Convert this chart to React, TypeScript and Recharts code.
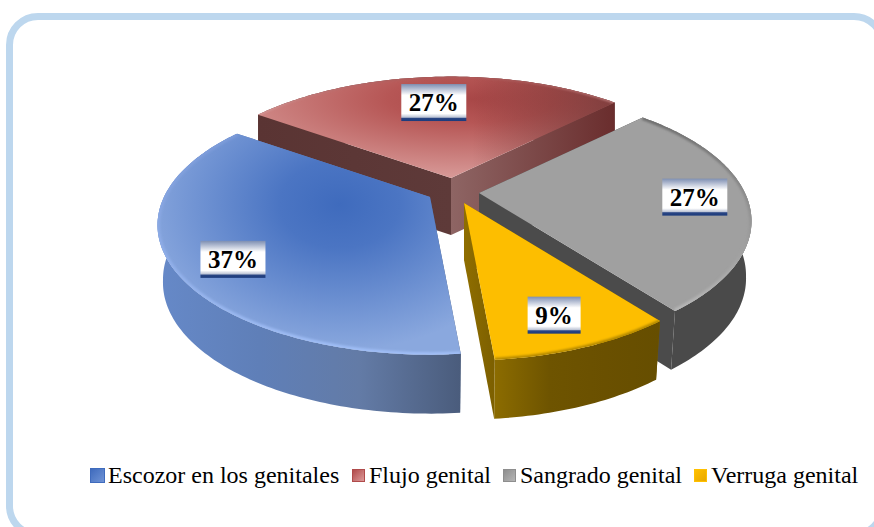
import React from 'react';
import { PieChart, Pie, Cell, Legend } from 'recharts';

const categories = ['Escozor en los genitales', 'Flujo genital', 'Sangrado genital', 'Verruga genital'];
const percents = [37, 27, 27, 9];
// The back slices must be painted first, so the pie starts at the red slice.
const paintOrder = [1, 2, 3, 0];
const rows = paintOrder.map((i) => ({ name: categories[i], value: percents[i], key: i }));

const SERIF = '"Liberation Serif", "Times New Roman", serif';
const PERSPECTIVE = 0.217;
const Y_RATIO = 0.464;
const DEPTH = 57;

type Look = {
  apex: [number, number];
  nudge: [number, number];
  top: string[];
  grad: [number, number, number];
  rim: [string, string];
  rimW: number;
  outer: string[];
  startWall: string[];
  endWall: string[];
  shade?: boolean;
  outerFirst?: boolean;
  icon: [string, string];
};

const looks: Look[] = [
  {
    apex: [-25, 2], nudge: [6.5, 10.5],
    top: ['#3F6BBD', '#4B75C3', '#8AA8DE'], grad: [0.6, 0.32, 0.66],
    rim: ['#7B9AD8', '#A0BEF6'], rimW: 5,
    outer: ['#6689C8', '#5F7FB8', '#637BA6', '#4A5C7C'],
    startWall: ['#4A5C7C', '#4A5C7C'], endWall: ['#6080BC', '#6080BC'],
    icon: ['#3F6BBD', '#6F93D6'],
  },
  {
    apex: [-4, -17], nudge: [-4.5, 8.5],
    top: ['#A84747', '#B65655', '#D89A98'], grad: [0.6, 0.22, 0.78],
    rim: ['#A85A5A', '#D8A0A0'], rimW: 2,
    outer: ['#5B3534', '#5B3534', '#5B3534', '#5B3534'],
    startWall: ['#5A3433', '#5E3A39'], endWall: ['#8E6564', '#6A2D2D'],
    shade: true, outerFirst: true,
    icon: ['#B04B4B', '#DD9A9A'],
  },
  {
    apex: [24, -2], nudge: [1, -2.5],
    top: ['#A0A0A0', '#A0A0A0', '#A0A0A0'], grad: [0.5, 0.5, 0.7],
    rim: ['#6E6E6E', '#B8B8B8'], rimW: 5,
    outer: ['#4A4A4A', '#4A4A4A', '#4A4A4A', '#4A4A4A'],
    startWall: ['#4A4A4A', '#4A4A4A'], endWall: ['#4B4B4B', '#4B4B4B'],
    icon: ['#8E8E8E', '#B5B5B5'],
  },
  {
    apex: [9, 8], nudge: [-2.5, 2.5],
    top: ['#FDBE00', '#FDBE00', '#FDBE00'], grad: [0.5, 0.5, 0.7],
    rim: ['#B08600', '#B08600'], rimW: 4,
    outer: ['#8C6C00', '#6E5400', '#6A5000', '#664E00'],
    startWall: ['#7A5D00', '#7A5D00'], endWall: ['#8F6E00', '#7C5F00'],
    icon: ['#FFC000', '#E8A800'],
  },
];

const legendX = [90, 352, 503, 694];

const rad = (d: number) => (d * Math.PI) / 180;

// Excel's 3D view slightly stretches the angles near the back-left boundary.
function warpAngle(angle: number) {
  const a = ((angle % 360) + 360) % 360;
  return a + 2.7 * Math.exp(-(((a - 142) / 40) ** 2));
}

function projector(cx: number, cy: number, R: number, apex: [number, number]) {
  return (angle: number, r: number, dropped: boolean) => {
    const w = warpAngle(angle);
    const u = r * Math.cos(rad(w));
    const v = r * Math.sin(rad(w));
    const s = 1 / (1 + PERSPECTIVE * v);
    const t = Math.min(1, Math.max(0, (0.6 - v) / 0.8));
    const shrink = dropped ? 1 - 0.02 * t : 1;
    return [
      cx + apex[0] + R * u * s * shrink,
      cy + apex[1] - R * Y_RATIO * v * s + (dropped ? DEPTH + (r > 0 ? (-v > 0 ? -v * 2 : 0) : 0) : 0),
    ];
  };
}

function arcPoints(project: ReturnType<typeof projector>, a0: number, a1: number, dropped: boolean) {
  const n = Math.max(2, Math.ceil(Math.abs(a1 - a0)));
  const out: number[][] = [];
  for (let i = 0; i <= n; i++) out.push(project(a0 + ((a1 - a0) * i) / n, 1, dropped));
  return out;
}

const toPath = (pts: number[][], close = true) =>
  pts.map((p, i) => `${i ? 'L' : 'M'}${p[0].toFixed(2)} ${p[1].toFixed(2)}`).join(' ') + (close ? ' Z' : '');

function Wedge(props: any) {
  const { cx, cy, outerRadius, startAngle, endAngle, payload } = props;
  const key = payload.key as number;
  const look = looks[key];
  const project = projector(cx, cy, outerRadius, look.apex);
  const topArc = arcPoints(project, startAngle, endAngle, false);
  const lowArc = arcPoints(project, startAngle, endAngle, true);
  const apexTop = project(0, 0, false);
  const apexLow = project(0, 0, true);
  const face = toPath([apexTop, ...topArc]);
  const id = `w${key}`;
  const stops = (c: string[]) =>
    c.map((col, i) => <stop key={i} offset={i / (c.length - 1)} stopColor={col} />);
  const outerWall = <path d={toPath([...topArc, ...[...lowArc].reverse()])} fill={`url(#${id}outer)`} />;
  return (
    <g>
      <defs>
        <radialGradient id={`${id}top`} cx={look.grad[0]} cy={look.grad[1]} r={look.grad[2]}>
          <stop offset="0" stopColor={look.top[0]} />
          <stop offset="0.3" stopColor={look.top[1]} />
          <stop offset="1" stopColor={look.top[2]} />
        </radialGradient>
        <linearGradient id={`${id}outer`} x1="0" x2="1" y1="0" y2="0">{stops(look.outer)}</linearGradient>
        <linearGradient id={`${id}sw`} x1="0" x2="1" y1="0" y2="0">{stops(look.startWall)}</linearGradient>
        <linearGradient id={`${id}ew`} x1="0" x2="1" y1="0" y2="0">{stops(look.endWall)}</linearGradient>
        <linearGradient id={`${id}rim`} x1="0" x2="0" y1="0" y2="1">{stops(look.rim)}</linearGradient>
        <linearGradient id={`${id}shade`} x1="0" x2="1" y1="0" y2="0">
          <stop offset="0.6" stopColor="#5E2626" stopOpacity={0} />
          <stop offset="1" stopColor="#5E2626" stopOpacity={0.65} />
        </linearGradient>
        <clipPath id={`${id}clip`}><path d={face} /></clipPath>
        <filter id={`${id}blur`} x="-10%" y="-10%" width="120%" height="120%">
          <feGaussianBlur stdDeviation="1.3" />
        </filter>
      </defs>
      {look.outerFirst ? outerWall : null}
      <path d={toPath([apexTop, topArc[0], lowArc[0], apexLow])} fill={`url(#${id}sw)`} />
      <path
        d={toPath([apexTop, topArc[topArc.length - 1], lowArc[lowArc.length - 1], apexLow])}
        fill={`url(#${id}ew)`}
      />
      {look.outerFirst ? null : outerWall}
      <path d={face} fill={`url(#${id}top)`} />
      {look.shade ? <path d={face} fill={`url(#${id}shade)`} /> : null}
      <g clipPath={`url(#${id}clip)`}>
        <path
          d={toPath(topArc, false)}
          fill="none"
          stroke={`url(#${id}rim)`}
          strokeWidth={look.rimW}
          filter={`url(#${id}blur)`}
        />
      </g>
    </g>
  );
}

function PercentLabel(props: any) {
  const { cx, cy, outerRadius, midAngle, payload, value } = props;
  const key = (payload?.key ?? rows[props.index].key) as number;
  const look = looks[key];
  const [x0, y0] = projector(cx, cy, outerRadius, look.apex)(midAngle, 0.8, false);
  const x = x0 + look.nudge[0];
  const y = y0 + look.nudge[1];
  const text = `${value}%`;
  const w = text.length > 2 ? 65 : 53;
  const h = 37;
  return (
    <g>
      <defs>
        <linearGradient id={`lab${key}`} x1="0" x2="0" y1="0" y2="1">
          <stop offset="0" stopColor="#7E8FB2" />
          <stop offset="0.1" stopColor="#A8B3CB" />
          <stop offset="0.3" stopColor="#FFFFFF" />
          <stop offset="0.8" stopColor="#FFFFFF" />
          <stop offset="0.9" stopColor="#B9C1D3" />
          <stop offset="0.92" stopColor="#2A4684" />
          <stop offset="1" stopColor="#1B3A7C" />
        </linearGradient>
      </defs>
      <rect x={x - w / 2} y={y - h / 2} width={w} height={h} fill={`url(#lab${key})`} />
      <text
        x={x}
        y={y + 8.5}
        textAnchor="middle"
        fontFamily={SERIF}
        fontWeight="bold"
        fontSize={25}
        fill="#000"
      >
        {text}
      </text>
    </g>
  );
}

function LegendRow() {
  return (
    <div style={{ position: 'relative', width: 874, height: 30, fontFamily: SERIF, fontSize: 24, color: '#000' }}>
      {categories.map((name, i) => (
        <div key={name} style={{ position: 'absolute', left: legendX[i], top: 0, display: 'flex', alignItems: 'center', whiteSpace: 'nowrap', lineHeight: '30px' }}>
          <span
            style={{
              display: 'inline-block',
              boxSizing: 'border-box',
              width: i === 0 ? 15 : 13,
              height: i === 0 ? 15 : 13,
              marginRight: i === 0 ? 3 : 4,
              background: `linear-gradient(135deg, ${looks[i].icon[0]}, ${looks[i].icon[1]})`,
              border: `1px solid ${looks[i].icon[0]}`,
            }}
          />
          {name}
        </div>
      ))}
    </div>
  );
}

export default function App() {
  return (
    <div style={{ position: 'absolute', left: 0, top: 0, width: 874, height: 527, overflow: 'hidden', background: '#fff' }}>
      <div
        style={{
          position: 'absolute', left: 6, top: 13, width: 880, height: 525,
          boxSizing: 'border-box', border: '7px solid #BDD7EE', borderRadius: 32, background: '#fff',
        }}
      />
      <div style={{ position: 'absolute', left: 0, top: 0 }}>
        <PieChart width={874} height={527} margin={{ top: 0, right: 0, bottom: 0, left: 0 }}>
          <Pie
            data={rows}
            dataKey="value"
            nameKey="name"
            cx={455}
            cy={195}
            innerRadius={0}
            outerRadius={266}
            startAngle={142}
            endAngle={-218}
            stroke="none"
            isAnimationActive={false}
            labelLine={false}
            label={PercentLabel}
            shape={Wedge}
          >
            {rows.map((r) => (
              <Cell key={r.key} fill={looks[r.key].top[0]} />
            ))}
          </Pie>
          <Legend
            content={LegendRow}
            verticalAlign="bottom"
            wrapperStyle={{ left: 0, top: 460, bottom: 'auto', width: 874, height: 30 }}
          />
        </PieChart>
      </div>
    </div>
  );
}
